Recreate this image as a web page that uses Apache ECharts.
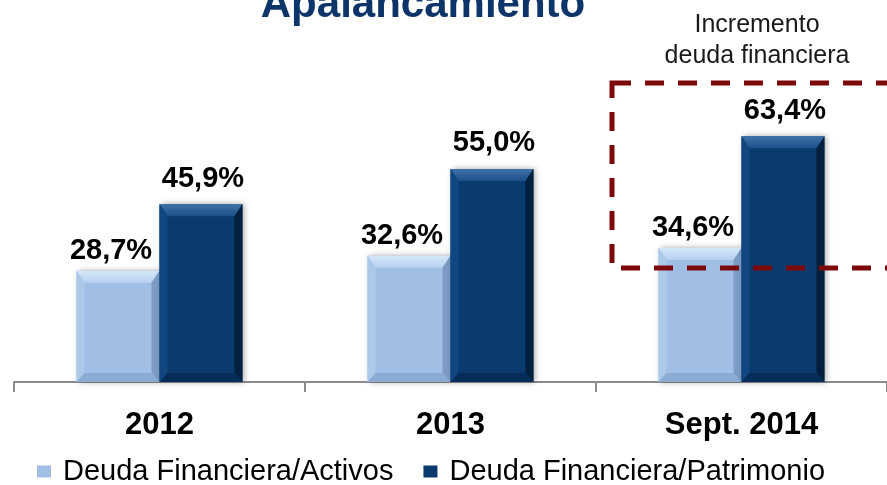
<!DOCTYPE html>
<html><head><meta charset="utf-8">
<script src="https://cdn.jsdelivr.net/npm/echarts@6/dist/echarts.min.js"></script>
<style>html,body{margin:0;padding:0;background:#fff}#c{width:887px;height:485px}</style>
</head><body><div id="c"></div>
<script>
const categories = ['2012', '2013', 'Sept. 2014'];
const seriesNames = ['Deuda Financiera/Activos', 'Deuda Financiera/Patrimonio'];
const activos = [28.7, 32.6, 34.6];
const patrimonio = [45.9, 55.0, 63.4];
const titleText = 'Apalancamiento';
const noteText = 'Incremento\ndeuda financiera';

const FONT = '"Liberation Sans", Arial, Helvetica, sans-serif';
function fmt(v) { return v.toFixed(1).replace('.', ',') + '%'; }

const lightPal = { face: '#a1bfe4', top1: '#d6e8fa', top2: '#b6d0ef', left: '#adc9ea', right: '#7d9bc3', bottom: '#8babd2' };
const darkPal = { face: '#0a3a6e', top1: '#4073aa', top2: '#1d4f88', left: '#114680', right: '#03203f', bottom: '#062d59' };

function lg(c1, c2) {
  return new echarts.graphic.LinearGradient(0, 0, 0, 1, [{ offset: 0, color: c1 }, { offset: 1, color: c2 }]);
}

function makeRender(side, pal, gap, dx) {
  return function (params, api) {
    const ci = api.value(0), v = api.value(1);
    const base = api.coord([ci, 0]);
    const top = api.coord([ci, v]);
    const band = api.size([1, 0])[0];
    const w = band * 0.285;
    const x0 = side < 0 ? base[0] - w : base[0];
    const x1 = x0 + w;
    const y0 = top[1], y1 = base[1];
    const b = 8, bt = 12, bb = 9;
    return {
      type: 'group',
      children: [
        { type: 'rect', shape: { x: x0, y: y0, width: w, height: y1 - y0 },
          style: { fill: pal.face, shadowBlur: 6, shadowColor: 'rgba(0,0,0,0.35)', shadowOffsetX: 2, shadowOffsetY: 0 } },
        { type: 'polygon', shape: { points: [[x0, y0], [x1, y0], [x1 - b, y0 + bt], [x0 + b, y0 + bt]] },
          style: { fill: lg(pal.top1, pal.top2) } },
        { type: 'polygon', shape: { points: [[x0, y0], [x0 + b, y0 + bt], [x0 + b, y1 - bb], [x0, y1]] },
          style: { fill: pal.left } },
        { type: 'polygon', shape: { points: [[x1, y0], [x1, y1], [x1 - b, y1 - bb], [x1 - b, y0 + bt]] },
          style: { fill: pal.right } },
        { type: 'polygon', shape: { points: [[x0, y1], [x0 + b, y1 - bb], [x1 - b, y1 - bb], [x1, y1]] },
          style: { fill: pal.bottom } },
        { type: 'text', style: { text: fmt(v), x: (x0 + x1) / 2 + dx, y: y0 - gap, align: 'center', verticalAlign: 'bottom',
          fontFamily: FONT, fontWeight: 'bold', fontSize: 29, fill: '#000' } }
      ]
    };
  };
}

const chart = echarts.init(document.getElementById('c'), null, { renderer: 'canvas' });
chart.setOption({
  animation: false,
  backgroundColor: '#fff',
  title: {
    text: titleText, left: 423, textAlign: 'center', top: -16, padding: 0,
    textStyle: { fontFamily: FONT, fontWeight: 'bold', fontSize: 42, color: '#0d3569' }
  },
  legend: {
    data: seriesNames, left: 37, top: 457, padding: 0,
    itemWidth: 14, itemHeight: 12, itemGap: 30, icon: 'rect',
    textStyle: { fontFamily: FONT, fontSize: 29, color: '#000', padding: [0, 0, 0, 7] }
  },
  grid: { left: 14, right: 0, top: 72, bottom: 103, containLabel: false },
  xAxis: {
    type: 'category', data: categories,
    axisLine: { show: true, lineStyle: { color: '#8c8c8c', width: 2 } },
    axisTick: { show: true, interval: 0, alignWithLabel: false, length: 10, lineStyle: { color: '#8c8c8c', width: 2 } },
    axisLabel: { margin: 28, fontFamily: FONT, fontWeight: 'bold', fontSize: 31, color: '#000' }
  },
  yAxis: { type: 'value', min: 0, max: 80, show: false },
  series: [
    { name: seriesNames[0], type: 'custom', itemStyle: { color: lightPal.face },
      encode: { x: 0, y: 1 }, clip: false,
      data: activos.map((v, i) => [i, v]), renderItem: makeRender(-1, lightPal, 5, -7) },
    { name: seriesNames[1], type: 'custom', itemStyle: { color: darkPal.face },
      encode: { x: 0, y: 1 }, clip: false,
      data: patrimonio.map((v, i) => [i, v]), renderItem: makeRender(1, darkPal, 11, 2) }
  ],
  graphic: [
    { type: 'rect', z: 10, shape: { x: 612, y: 83, width: 400, height: 185 },
      style: { fill: 'none', stroke: '#7d0a0a', lineWidth: 5, lineDash: [19, 14] } },
    { type: 'text', z: 10, x: 757, y: 10,
      style: { text: noteText, align: 'center', verticalAlign: 'top', fontFamily: FONT, fontSize: 25, lineHeight: 31, fill: '#1a1a1a' } }
  ]
});
</script>
</body></html>
